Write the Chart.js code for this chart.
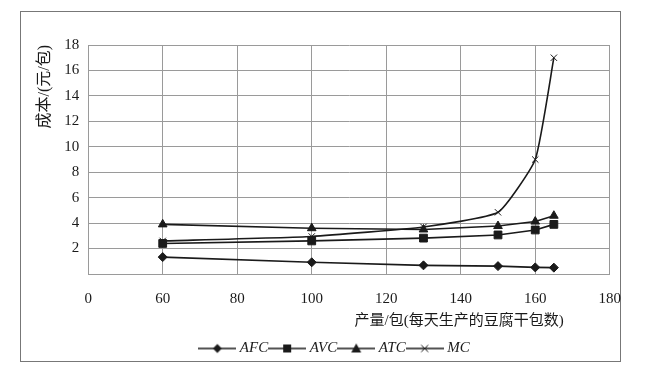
<!DOCTYPE html>
<html>
<head>
<meta charset="utf-8">
<script src="https://cdn.jsdelivr.net/npm/chart.js@4/dist/chart.umd.min.js"></script>
<style>
  html, body { margin: 0; padding: 0; background: #fff; }
  #frame { position: absolute; left: 20px; top: 11px; width: 599px; height: 349px; border: 1px solid #777; }
  #holder { position: absolute; left: 0; top: 0; width: 616px; height: 354px; }
</style>
</head>
<body>
<div id="frame"><div id="holder"><canvas id="costChart"></canvas></div></div>
<script>
// output (packs per day) and costs (yuan per pack)
const outputs = [60, 100, 130, 150, 160, 165];
const afc = [1.33, 0.92, 0.68, 0.62, 0.52, 0.5];
const avc = [2.4, 2.6, 2.82, 3.07, 3.46, 3.9];
const atc = [3.9, 3.6, 3.5, 3.77, 4.12, 4.58];
const mc = [2.6, 2.95, 3.7, 4.85, 9.0, 17.0];

// the x axis is broken: first gridline reads 0, then 60..180
const xTickLabels = ["0", "60", "80", "100", "120", "140", "160", "180"];
const yTickLabels = ["", "2", "4", "6", "8", "10", "12", "14", "16", "18"];

const yTitle = "成本/(元/包)";
const xTitle = "产量/包(每天生产的豆腐干包数)";

const ink = "#1a1a1a";
const gridGray = "#9a9a9a";
const serif = "'Liberation Serif', 'Noto Sans CJK SC', serif";

function toPoints(ys) {
  return outputs.map((x, i) => ({ x: x, y: ys[i] }));
}

// little "line + marker" icons for the legend
function legendIcon(kind) {
  const c = document.createElement("canvas");
  c.width = 38;
  c.height = 12;
  const g = c.getContext("2d");
  g.strokeStyle = ink;
  g.fillStyle = ink;
  g.lineWidth = 1.5;
  g.beginPath();
  g.moveTo(0, 6);
  g.lineTo(38, 6);
  g.stroke();
  g.beginPath();
  if (kind === "diamond") {
    g.moveTo(19, 1.5); g.lineTo(23.5, 6); g.lineTo(19, 10.5); g.lineTo(14.5, 6);
    g.closePath(); g.fill();
  } else if (kind === "square") {
    g.fillRect(15, 2, 8, 8);
  } else if (kind === "triangle") {
    g.moveTo(19, 1); g.lineTo(24, 10); g.lineTo(14, 10);
    g.closePath(); g.fill();
  } else {
    g.lineWidth = 1;
    g.moveTo(15.5, 2.5); g.lineTo(22.5, 9.5);
    g.moveTo(22.5, 2.5); g.lineTo(15.5, 9.5);
    g.stroke();
  }
  return c;
}

const icons = [legendIcon("diamond"), legendIcon("square"), legendIcon("triangle"), legendIcon("cross")];

const xTitlePlugin = {
  id: "xTitle",
  afterDraw(chart) {
    const { ctx, chartArea } = chart;
    ctx.save();
    ctx.font = "15px " + serif;
    ctx.fillStyle = ink;
    ctx.textAlign = "right";
    ctx.textBaseline = "middle";
    ctx.fillText(xTitle, chartArea.right - 46, chartArea.bottom + 47);
    ctx.restore();
  }
};

const ctx = document.getElementById("costChart").getContext("2d");

new Chart(ctx, {
  type: "line",
  data: {
    datasets: [
      { label: "AFC", data: toPoints(afc), pointStyle: "rectRot", pointRadius: 4.5 },
      { label: "AVC", data: toPoints(avc), pointStyle: "rect", pointRadius: 5.5 },
      { label: "ATC", data: toPoints(atc), pointStyle: "triangle", pointRadius: 5 },
      { label: "MC", data: toPoints(mc), pointStyle: "crossRot", pointRadius: 4.5, pointBorderWidth: 1, tension: 0.15 }
    ].map((d) => Object.assign({
      borderColor: ink,
      backgroundColor: ink,
      pointBackgroundColor: ink,
      pointBorderColor: ink,
      pointBorderWidth: 1,
      borderWidth: 1.6,
      tension: 0
    }, d))
  },
  options: {
    responsive: true,
    maintainAspectRatio: false,
    animation: false,
    layout: { padding: { top: 33, left: 14, right: 0, bottom: 0 } },
    plugins: {
      tooltip: { enabled: false },
      legend: {
        position: "bottom",
        labels: {
          usePointStyle: true,
          pointStyleWidth: 30,
          padding: 4,
          color: ink,
          font: { family: serif, size: 15, style: "italic" },
          generateLabels(chart) {
            const items = Chart.defaults.plugins.legend.labels.generateLabels(chart);
            items.forEach((it, i) => { it.pointStyle = icons[i]; });
            return items;
          }
        }
      }
    },
    scales: {
      x: {
        type: "linear",
        min: 40,
        max: 180,
        grid: { color: gridGray, drawTicks: false },
        border: { color: gridGray },
        ticks: {
          stepSize: 20,
          padding: 16,
          color: ink,
          font: { family: serif, size: 15 },
          callback: (v) => xTickLabels[(v - 40) / 20]
        },
        afterFit: (scale) => { scale.height += 13; }
      },
      y: {
        min: 0,
        max: 18,
        grid: { color: gridGray, drawTicks: false },
        border: { color: gridGray },
        ticks: {
          stepSize: 2,
          padding: 9,
          color: ink,
          font: { family: serif, size: 15 },
          callback: (v) => yTickLabels[v / 2]
        },
        title: {
          display: true,
          text: yTitle,
          align: "end",
          color: ink,
          padding: { top: 0, bottom: 1 },
          font: { family: serif, size: 16 }
        }
      }
    }
  },
  plugins: [xTitlePlugin]
});
</script>
</body>
</html>
